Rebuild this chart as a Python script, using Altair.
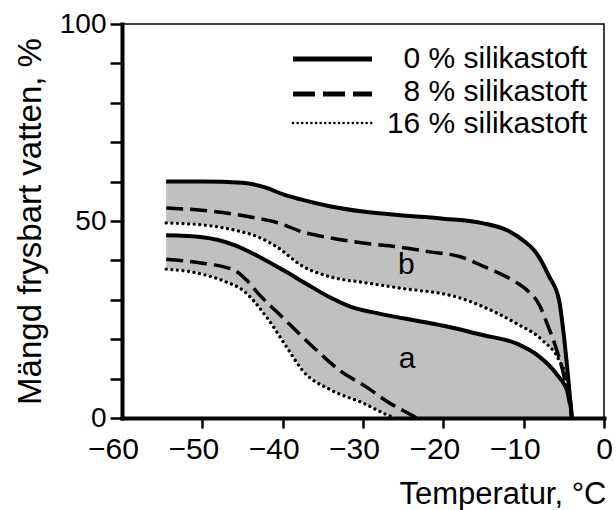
import altair as alt
import pandas as pd

# Frozen water content curves (temperature in deg C, amount in %)
# upper group "b"
T_SOLID_B = [-54.5, -50, -45, -42, -40, -38, -34, -30, -25, -20, -15, -12, -10, -8.4, -6.8, -5.6, -5, -4.5, -4]
V_SOLID_B = [60, 60, 59.7, 58.4, 56.8, 55.6, 53.7, 52.4, 51.4, 50.6, 49.4, 47.6, 45, 41.8, 35.8, 30, 21, 11, 0]

T_DASH_B = [-54.5, -48, -44, -40.5, -37.5, -34, -30, -25.5, -21.5, -18, -15, -11, -9.5, -8, -7, -6, -5.2, -4.5, -4]
V_DASH_B = [53.3, 52.3, 51, 49.5, 47.2, 45.7, 44.4, 43.4, 42.1, 41, 38.5, 34.5, 32.3, 28.5, 23.5, 18, 12.5, 6, 0]

T_DOT_B = [-54.5, -50, -46, -43, -40.7, -37.5, -34, -29.6, -25.5, -18, -15, -11, -7.7, -5.6, -4.7, -4]
V_DOT_B = [49.5, 49, 47.7, 45.9, 43.4, 38.5, 35.8, 34.3, 33, 30.5, 28.2, 24.1, 19.8, 14.7, 10, 0]

# lower group "a"
T_SOLID_A = [-54.5, -50, -46, -43, -40, -37, -34, -31.5, -28, -25, -20, -15, -11, -8, -6, -4.3, -4]
V_SOLID_A = [46.4, 45.9, 43.9, 41, 37.6, 34, 30.5, 28.2, 26.5, 25.3, 23.4, 21, 19, 15.5, 11.4, 5.3, 0]

T_DASH_A = [-54.5, -50, -46, -44.5, -43, -40, -37.5, -35.4, -33, -29.6, -26.7, -24, -23.3]
V_DASH_A = [40.3, 39.3, 37.5, 35, 31.5, 25.5, 20.5, 16.5, 12.2, 7.9, 3.8, 0.8, 0]

T_DOT_A = [-54.5, -50, -47, -45, -42, -39.5, -37.5, -34, -30, -27, -26]
V_DOT_A = [37.8, 36.5, 34.5, 32.5, 25.6, 18, 12, 7.1, 3.8, 0.8, 0]

# group labels
GROUP_T = [-24.6, -24.5]
GROUP_V = [38.8, 15.0]
GROUP_TXT = ["b", "a"]

LEGEND_LABELS = ["0 % silikastoft", "8 % silikastoft", "16 % silikastoft"]

FONT = "Liberation Sans"
GRAY = "#c0c0c0"


def curve(ts, vs, name):
    return pd.DataFrame({"T": ts, "v": vs, "curve": name})


solid = pd.concat([curve(T_SOLID_B, V_SOLID_B, "b"), curve(T_SOLID_A, V_SOLID_A, "a")])
dashed = pd.concat([curve(T_DASH_B, V_DASH_B, "b"), curve(T_DASH_A, V_DASH_A, "a")])
dotted = pd.concat([curve(T_DOT_B, V_DOT_B, "b"), curve(T_DOT_A, V_DOT_A, "a")])

x_axis = alt.Axis(
    values=list(range(-60, 1, 10)),
    title="Temperatur, °C",
    titleFont=FONT, titleFontSize=31, titleFontWeight="normal", titleColor="black",
    titleAlign="right", titleAnchor="end", titleX=484, titleY=85, titleBaseline="alphabetic",
    labelFont=FONT, labelFontSize=30, labelColor="black", labelPadding=6,
    labelFlush=False, labelOverlap=False,
    labelOffset={"condition": {"test": "datum.value < 0", "value": -9}, "value": 0},
    tickSize=10, tickWidth=2.5,
    tickColor={"condition": {"test": "datum.value == -60", "value": "transparent"}, "value": "black"},
    domainColor="black", domainWidth=4, domainCap="square",
    grid=False, zindex=1,
)
y_axis = alt.Axis(
    values=list(range(0, 101, 10)),
    labelExpr="datum.value % 50 == 0 ? datum.label : ''",
    title="Mängd frysbart vatten, %",
    titleFont=FONT, titleFontSize=33, titleFontWeight="normal", titleColor="black",
    titleAngle=270, titleAlign="center", titleBaseline="alphabetic", titleX=-82, titleY=197,
    labelFont=FONT, labelFontSize=28, labelColor="black", labelPadding=4,
    labelOverlap=False,
    tickSize=12, tickWidth=2.5, tickColor="black",
    domainColor="black", domainWidth=4, domainCap="square",
    grid=False, zindex=1,
)

X = alt.X("T:Q", scale=alt.Scale(domain=[-60, 0], nice=False, zero=False), axis=x_axis)
Y = alt.Y("v:Q", scale=alt.Scale(domain=[0, 100], nice=False), axis=y_axis)


def band(df, color, edge=None):
    kw = dict(interpolate="monotone", color=color, opacity=1)
    if edge:
        kw.update(stroke=edge, strokeWidth=1.5)
    return alt.Chart(df).mark_area(**kw).encode(x=X, y=Y)


# shaded bands: grey under each solid curve, white under each dotted curve
layers = [
    band(curve(T_SOLID_B, V_SOLID_B, "b"), GRAY),
    band(curve(T_DOT_B, V_DOT_B, "b"), "white", edge="white"),
    band(curve(T_SOLID_A, V_SOLID_A, "a"), GRAY),
    band(curve(T_DOT_A, V_DOT_A, "a"), "white", edge="white"),
]

layers.append(
    alt.Chart(solid).mark_line(interpolate="monotone", color="black", strokeWidth=4)
    .encode(x=X, y=Y, detail="curve:N")
)
layers.append(
    alt.Chart(dashed).mark_line(interpolate="monotone", color="black", strokeWidth=3.5, strokeDash=[17, 7])
    .encode(x=X, y=Y, detail="curve:N")
)
layers.append(
    alt.Chart(dotted).mark_line(interpolate="monotone", color="black", strokeWidth=3.3,
                                strokeDash=[0.1, 5.5], strokeCap="round")
    .encode(x=X, y=Y, detail="curve:N")
)

layers.append(
    alt.Chart(pd.DataFrame({"T": GROUP_T, "v": GROUP_V, "txt": GROUP_TXT}))
    .mark_text(font=FONT, fontSize=30, color="black", baseline="middle", align="center")
    .encode(x=X, y=Y, text="txt:N")
)

# legend drawn inside the plot, top right
legend_styles = [
    dict(strokeWidth=5),
    dict(strokeWidth=5, strokeDash=[22, 8]),
    dict(strokeWidth=2.5, strokeDash=[0.1, 4.5], strokeCap="round"),
]
line_y = [35, 70, 99]
text_y = [44, 77, 109]
for label, style, ly, ty in zip(LEGEND_LABELS, legend_styles, line_y, text_y):
    one = pd.DataFrame({"label": [label]})
    layers.append(
        alt.Chart(one).mark_rule(color="black", **style)
        .encode(x=alt.value(171), x2=alt.value(250), y=alt.value(ly))
    )
    layers.append(
        alt.Chart(one).mark_text(font=FONT, fontSize=30, color="black", align="right", baseline="alphabetic")
        .encode(x=alt.value(465), y=alt.value(ty), text="label:N")
    )

chart = (
    alt.layer(*layers)
    .properties(
        width=482, height=394,
        autosize=alt.AutoSizeParams(type="none"),
        padding={"left": 122, "top": 24, "right": 10, "bottom": 92},
        background="white",
    )
    .configure(font=FONT)
    .configure_view(stroke="black", strokeWidth=1.5)
)

chart.save("out.html", embed_options={"renderer": "svg", "actions": False})
